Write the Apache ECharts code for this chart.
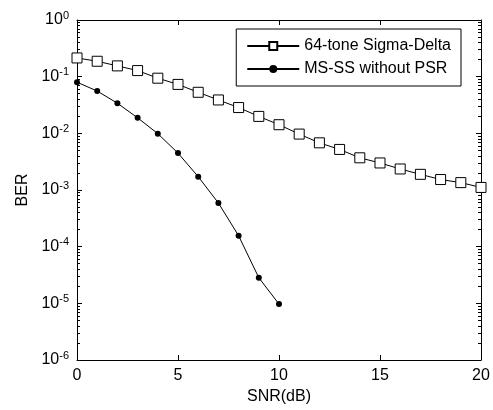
<!DOCTYPE html>
<html><head><meta charset="utf-8">
<script src="https://cdn.jsdelivr.net/npm/echarts@6/dist/echarts.min.js"></script>
<style>html,body{margin:0;padding:0;background:#fff}#c{width:493px;height:410px}</style>
</head><body><div id="c"></div>
<script>
const snrSigma = [0,1,2,3,4,5,6,7,8,9,10,11,12,13,14,15,16,17,18,19,20];
const berSigma = [0.214,0.187,0.155,0.128,0.094,0.073,0.053,0.0388,0.0285,0.0199,0.0142,0.0097,0.0068,0.0052,0.0037,0.0030,0.00235,0.00189,0.00153,0.00135,0.00111];
const snrMS = [0,1,2,3,4,5,6,7,8,9,10];
const berMS = [0.080,0.0557,0.034,0.0188,0.00986,0.00448,0.00172,0.00059,0.000156,0.0000283,0.0000097];
const xTicks = [0,5,10,15,20];
const yTicks = [1e-6,1e-5,1e-4,1e-3,1e-2,1e-1,1];
const seriesNames = ['64-tone Sigma-Delta','MS-SS without PSR'];

const minorTicks = [];
for (let e = -6; e < 0; e++) for (let m = 2; m <= 9; m++) minorTicks.push(m * Math.pow(10, e));

const FONT = 'Liberation Sans';
const black = '#000';
function yAx(pos, minor, labels) {
  return {
    type: 'log', logBase: 10, min: 1e-6, max: 1, position: pos,
    axisLine: { show: !minor, lineStyle: { color: black, width: 1 } },
    axisTick: { show: true, inside: true, length: minor ? 3 : 5, lineStyle: { color: black },
      customValues: minor ? minorTicks : yTicks },
    splitLine: { show: false },
    axisLabel: labels ? {
      show: true, customValues: yTicks, margin: 8, color: black, fontFamily: FONT,
      formatter: v => '{b|10}{s|' + Math.round(Math.log10(v)) + '}',
      rich: { b: { fontSize: 16, fontFamily: FONT, color: black }, s: { fontSize: 11, fontFamily: FONT, color: black, padding: [0,0,9,0] } }
    } : { show: false },
    name: labels ? 'BER' : '', nameLocation: 'middle', nameGap: 46, nameRotate: 90,
    nameTextStyle: { fontSize: 16, fontFamily: FONT, color: black }
  };
}

const chart = echarts.init(document.getElementById('c'), null, { renderer: 'canvas' });
chart.setOption({
  animation: false,
  backgroundColor: '#fff',
  grid: { left: 77, right: 12, top: 20, bottom: 47, containLabel: false },
  legend: {
    right: 32, top: 29, orient: 'vertical',
    backgroundColor: '#fff', borderColor: black, borderWidth: 1,
    padding: [9, 10, 9, 10], itemGap: 7, itemWidth: 52, itemHeight: 10,
    textStyle: { fontSize: 16, fontFamily: FONT, color: black },
    data: seriesNames
  },
  xAxis: [{
    type: 'value', min: 0, max: 20, interval: 5, position: 'bottom',
    axisLine: { lineStyle: { color: black, width: 1 } },
    axisTick: { inside: true, length: 5, lineStyle: { color: black } },
    splitLine: { show: false },
    axisLabel: { color: black, fontSize: 16, fontFamily: FONT, margin: 8, customValues: xTicks },
    name: 'SNR(dB)', nameLocation: 'middle', nameGap: 29,
    nameTextStyle: { fontSize: 16, fontFamily: FONT, color: black }
  }, {
    type: 'value', min: 0, max: 20, interval: 5, position: 'top',
    axisLine: { lineStyle: { color: black, width: 1 } },
    axisTick: { inside: true, length: 5, lineStyle: { color: black } },
    splitLine: { show: false }, axisLabel: { show: false }
  }],
  yAxis: [yAx('left', false, true), yAx('left', true, false), yAx('right', false, false), yAx('right', true, false)],
  series: [{
    name: seriesNames[0], type: 'line', xAxisIndex: 0, yAxisIndex: 0,
    data: snrSigma.map((x, i) => [x, berSigma[i]]),
    symbol: 'rect', symbolSize: 10, showAllSymbol: true,
    lineStyle: { color: black, width: 1 },
    itemStyle: { color: '#fff', borderColor: black, borderWidth: 1 }
  }, {
    name: seriesNames[1], type: 'line', xAxisIndex: 0, yAxisIndex: 0,
    data: snrMS.map((x, i) => [x, berMS[i]]),
    symbol: 'circle', symbolSize: 6, showAllSymbol: true,
    lineStyle: { color: black, width: 1 },
    itemStyle: { color: black, borderColor: black, borderWidth: 0 }
  }]
});
</script></body></html>
